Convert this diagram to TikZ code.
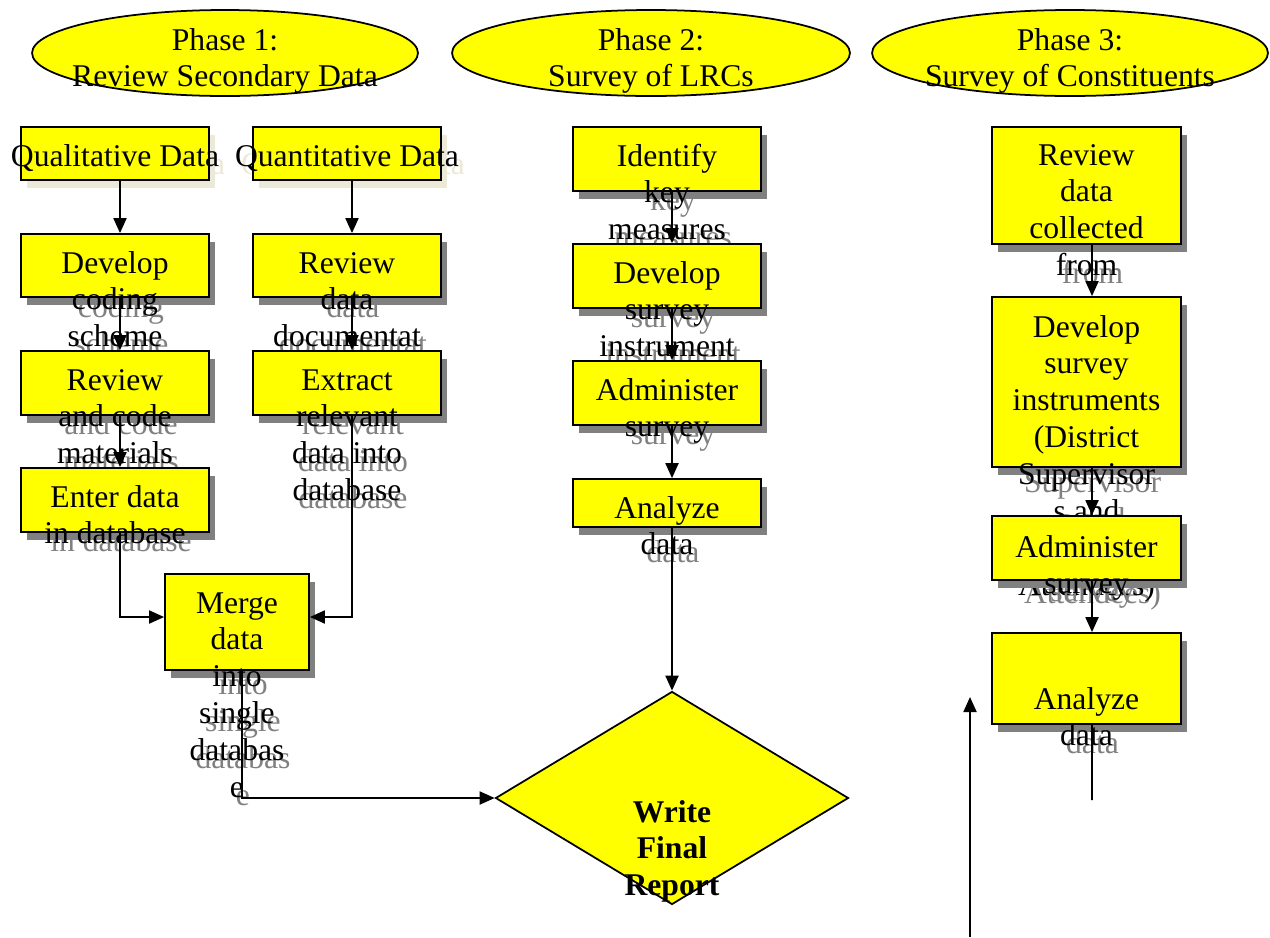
\documentclass[tikz,border=0pt]{standalone}
\usepackage{fontspec}
\setmainfont{Liberation Serif}
\usetikzlibrary{arrows.meta,calc,fit,shapes.geometric}

\definecolor{boxyellow}{HTML}{FFFF00}
\definecolor{shadegray}{HTML}{808080}
\definecolor{shadelight}{HTML}{ECE9D8}

% lines stacked from the first baseline down
\newcommand\toplines[1]{\begin{tabular}[t]{@{}c@{}}#1\end{tabular}}

% name, x1, y1, x2, y2, shadow colour, first baseline, text
\newcommand\procbox[8]{%
  \node[shade box, fill=#6, fit={({#2+6},{#3+8}) ({#4+6},{#5+8})}] (#1 shade) {};
  \node[box text, text=#6] (#1 shade text) at ({(#2+#4)/2+6},{#7+8}) {\toplines{#8}};
  \node[proc box, fit={(#2,#3) (#4,#5)}] (#1) {};
  \node[box text] (#1 text) at ({(#2+#4)/2},#7) {\toplines{#8}};
}

\begin{document}
\begin{tikzpicture}[x=0.02cm,y=-0.02cm,
  proc box/.style={draw=black, line width=1pt, fill=boxyellow, inner sep=0pt},
  shade box/.style={inner sep=0pt},
  box text/.style={font=\fontsize{18}{21}\selectfont, anchor=base, inner sep=0pt},
  phase/.style={ellipse, draw=black, line width=1pt, fill=boxyellow,
    inner sep=0pt, minimum height=1.72cm},
  report/.style={diamond, draw=black, line width=1pt, fill=boxyellow,
    inner sep=0pt, minimum width=7.06cm, minimum height=4.26cm},
  arr/.style={line width=1.1pt, -{Triangle[length=0.3cm,width=0.26cm]}}]

  \useasboundingbox (0,0) rectangle (1270,937);

  % phase headers
  \node[phase, minimum width=7.72cm] (phaseA) at (225,53) {};
  \node[box text] (phaseA text) at (225,50) {\toplines{Phase 1:\\Review Secondary Data}};

  \node[phase, minimum width=7.96cm] (phaseB) at (651,53) {};
  \node[box text] (phaseB text) at (651,50) {\toplines{Phase 2:\\Survey of LRCs}};

  \node[phase, minimum width=7.92cm] (phaseC) at (1070,53) {};
  \node[box text] (phaseC text) at (1070,50) {\toplines{Phase 3:\\Survey of Constituents}};

  % phase 1
  \procbox{qual}{21}{127}{209}{180}{shadelight}{166}{Qualitative Data}
  \procbox{coding}{21}{234}{209}{297}{shadegray}{273}{Develop\\coding\\scheme}
  \procbox{codemat}{21}{351}{209}{415}{shadegray}{390}{Review\\and code\\materials}
  \procbox{enter}{21}{468}{209}{532}{shadegray}{507}{Enter data\\in database}

  \procbox{quant}{253}{127}{441}{180}{shadelight}{166}{Quantitative Data}
  \procbox{docs}{253}{234}{441}{297}{shadegray}{273}{Review\\data\\documentat}
  \procbox{extract}{253}{351}{441}{415}{shadegray}{390}{Extract\\relevant\\data into\\database}

  \procbox{merge}{165}{574}{309}{670}{shadegray}{613}{Merge\\data\\into\\single\\databas\\e}

  % phase 2
  \procbox{identify}{573}{127}{761}{191}{shadegray}{166}{Identify\\key\\measures}
  \procbox{instrument}{573}{244}{761}{308}{shadegray}{283}{Develop\\survey\\instrument}
  \procbox{administer}{573}{361}{761}{425}{shadegray}{400}{Administer\\survey}
  \procbox{analyze}{573}{479}{761}{527}{shadegray}{518}{Analyze\\data}

  % phase 3
  \procbox{collected}{992}{127}{1181}{244}{shadegray}{165}{Review\\data\\collected\\from}
  \procbox{instruments}{992}{297}{1181}{467}{shadegray}{337}{Develop\\survey\\instruments\\(District\\Supervisor\\s and\\~\\Attendees)}
  \procbox{survey3}{992}{516}{1181}{580}{shadegray}{557}{Administer\\survey}
  \procbox{analyze3}{992}{633}{1181}{724}{shadegray}{709}{Analyze\\data}

  % final report
  \node[report] (report) at (672,798) {};
  \node[box text, font=\fontsize{18}{21}\selectfont\bfseries] (report text)
    at (672,822) {\toplines{Write\\Final\\Report}};

  % connectors
  \draw[arr] ($(qual.south)+(5,0)$) -- ($(coding.north)+(5,0)$);
  \draw[arr] ($(coding.south)+(5,0)$) -- ($(codemat.north)+(5,0)$);
  \draw[arr] ($(codemat.south)+(5,0)$) -- ($(enter.north)+(5,0)$);
  \draw[arr] ($(quant.south)+(5,0)$) -- ($(docs.north)+(5,0)$);
  \draw[arr] ($(docs.south)+(5,0)$) -- ($(extract.north)+(5,0)$);
  \draw[arr] ($(enter.south)+(5,0)$) |- ($(merge.west)+(0,-5)$);
  \draw[arr] ($(extract.south)+(5,0)$) |- ($(merge.east)+(0,-5)$);
  \draw[arr] ($(merge.south)+(5,0)$) |- (report.west);

  \draw[arr] ($(identify.south)+(5,0)$) -- ($(instrument.north)+(5,0)$);
  \draw[arr] ($(instrument.south)+(5,0)$) -- ($(administer.north)+(5,0)$);
  \draw[arr] ($(administer.south)+(5,0)$) -- ($(analyze.north)+(5,0)$);
  \draw[arr] ($(analyze.south)+(5,0)$) -- (report.north);

  \draw[arr] ($(collected.south)+(5.5,0)$) -- ($(instruments.north)+(5.5,0)$);
  \draw[arr] ($(instruments.south)+(5.5,0)$) -- ($(survey3.north)+(5.5,0)$);
  \draw[arr] ($(survey3.south)+(5.5,0)$) -- ($(analyze3.north)+(5.5,0)$);
  \coordinate (tail3) at (1092,800);
  \draw[line width=1.1pt] ($(analyze3.south)+(5.5,0)$) -- (tail3);

  \coordinate (loose start) at (970,937);
  \coordinate (loose end) at (970,697);
  \draw[arr] (loose start) -- (loose end);

\end{tikzpicture}
\end{document}
